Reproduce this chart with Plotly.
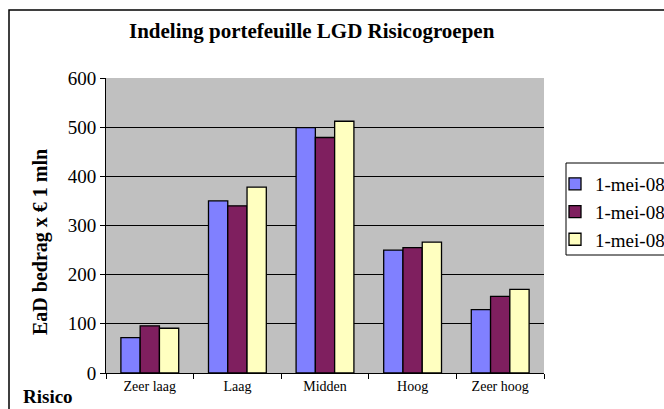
import plotly.graph_objects as go

categories = ["Zeer laag", "Laag", "Midden", "Hoog", "Zeer hoog"]
series_names = ["1-mei-08", "1-mei-08", "1-mei-08"]
series_a = [72, 350, 499, 250, 129]
series_b = [96, 340, 479, 255, 156]
series_c = [91, 378, 512, 266, 170]
y_ticks = [0, 100, 200, 300, 400, 500, 600]
colors = ["#8080FF", "#7F1F5F", "#FFFFC0"]

FONT = "Liberation Serif, Times New Roman, serif"

fig = go.Figure()
for i, (name, vals) in enumerate(zip(series_names, [series_a, series_b, series_c])):
    fig.add_trace(go.Bar(
        x=categories, y=vals, name=name,
        marker=dict(color=colors[i], line=dict(color="black", width=1.3)),
    ))

W, H = 664, 409
L, R, T, B = 106, 120, 78, 36
pw, ph = W - L - R, H - T - B

def px(x):
    return (x - L) / pw

def py(y):
    return (H - B - y) / ph

fig.update_layout(
    width=W, height=H,
    margin=dict(l=L, r=R, t=T, b=B, autoexpand=False),
    paper_bgcolor="white",
    plot_bgcolor="#C0C0C0",
    barmode="group",
    bargap=0.34,
    bargroupgap=0,
    font=dict(family=FONT, color="black"),
    showlegend=True,
    legend=dict(
        xref="container", yref="container",
        x=555 / W, y=1 - 165 / H, xanchor="left", yanchor="top",
        borderwidth=0, bgcolor="rgba(0,0,0,0)",
        font=dict(size=19, family=FONT),
        tracegroupgap=0,
        itemwidth=30,
    ),
    xaxis=dict(
        showline=True, linecolor="black", linewidth=1,
        ticks="outside", tickson="boundaries", ticklen=5, tickcolor="black",
        tickfont=dict(size=14, family=FONT),
        showgrid=False,
    ),
    yaxis=dict(
        range=[0, 600], tickvals=y_ticks,
        showline=True, linecolor="black", linewidth=1,
        ticks="outside", ticklen=5, tickcolor="black",
        tickfont=dict(size=19, family=FONT),
        showgrid=True, gridcolor="black", gridwidth=1,
        zeroline=False,
    ),
    annotations=[
        dict(text="<b>Indeling portefeuille LGD Risicogroepen</b>",
             xref="paper", yref="paper", x=px(312), y=py(31),
             xanchor="center", yanchor="middle", showarrow=False,
             font=dict(size=21, family=FONT)),
        dict(text="<b>EaD bedrag x € 1 mln</b>",
             xref="paper", yref="paper", x=px(40), y=py(242),
             xanchor="center", yanchor="middle", showarrow=False, textangle=-90,
             font=dict(size=20, family=FONT)),
        dict(text="<b>Risico</b>",
             xref="paper", yref="paper", x=px(21), y=py(396),
             xanchor="left", yanchor="middle", showarrow=False,
             font=dict(size=19, family=FONT)),
    ],
    shapes=[
        dict(type="rect", xref="paper", yref="paper",
             x0=px(9), x1=px(700), y0=py(440), y1=py(10),
             line=dict(color="black", width=1.5), fillcolor="rgba(0,0,0,0)",
             layer="below"),
        dict(type="rect", xref="paper", yref="paper",
             x0=px(566), x1=px(700), y0=py(255), y1=py(163),
             line=dict(color="black", width=1), fillcolor="white",
             layer="below"),
    ],
)

fig.write_html("out.html", config={"displayModeBar": False},
               post_script="document.body.style.margin='0';")
